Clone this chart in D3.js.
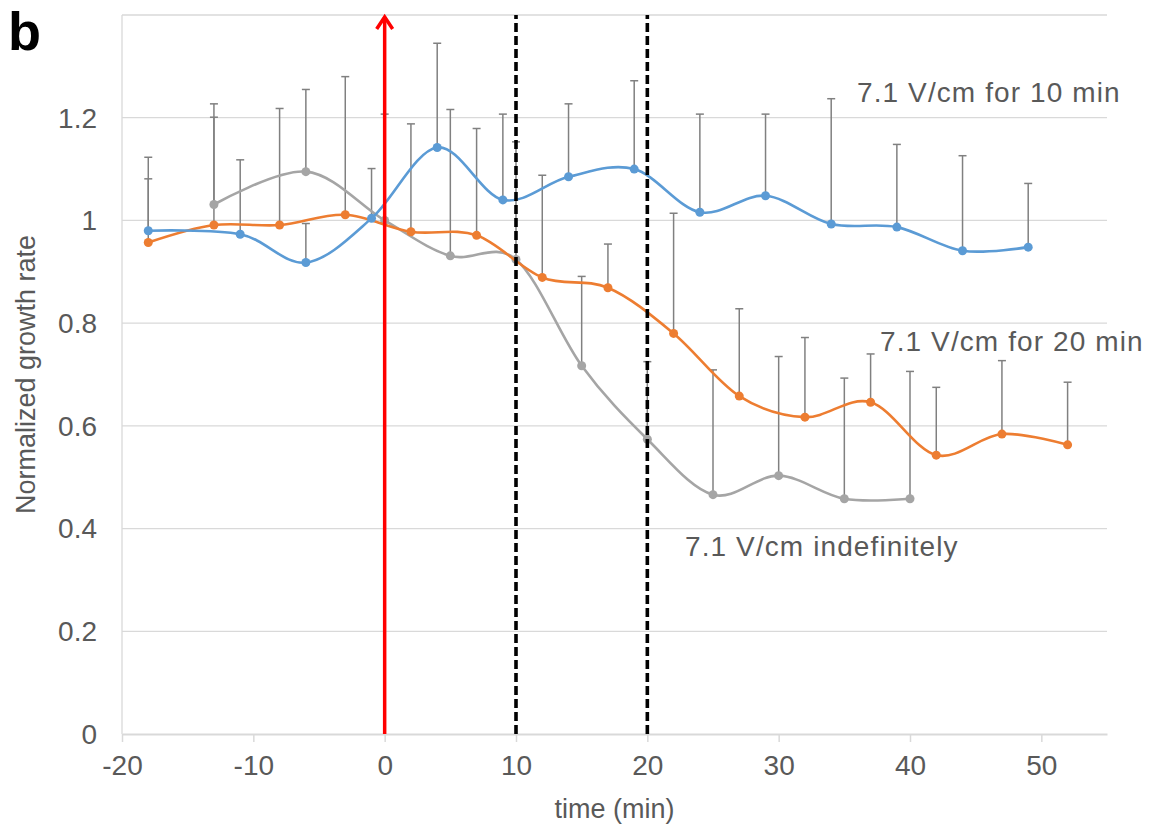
<!DOCTYPE html>
<html>
<head>
<meta charset="utf-8">
<script src="https://cdn.jsdelivr.net/npm/d3@7"></script>
<style>
  body { margin: 0; background: #fff; }
  text { font-family: "Liberation Sans", Arial, sans-serif; }
</style>
</head>
<body>
<script>
// data
var tenMinT   = [-18, -11, -6, -1, 4, 9, 14, 19, 24, 29, 34, 39, 44, 49];
var tenMinV   = [0.980, 0.973, 0.918, 1.004, 1.142, 1.040, 1.085, 1.100, 1.016, 1.048, 0.993, 0.987, 0.941, 0.948];
var tenMinErr = [0.143, 0.145, 0.076, 0.097, 0.203, 0.167, 0.142, 0.172, 0.191, 0.159, 0.244, 0.161, 0.185, 0.124];

var twentyMinT   = [-18, -13, -8, -3, 2, 7, 12, 17, 22, 27, 32, 37, 42, 47, 52];
var twentyMinV   = [0.957, 0.991, 0.991, 1.011, 0.978, 0.971, 0.889, 0.869, 0.780, 0.658, 0.617, 0.646, 0.543, 0.584, 0.563];
var twentyMinErr = [0.124, 0.210, 0.227, 0.269, 0.210, 0.208, 0.199, 0.085, 0.234, 0.170, 0.155, 0.094, 0.132, 0.143, 0.122];

var indefT   = [-13, -6, 0, 5, 10, 15, 20, 25, 30, 35, 40];
var indefV   = [1.031, 1.095, 1.000, 0.931, 0.924, 0.717, 0.574, 0.466, 0.503, 0.458, 0.458];
var indefErr = [0.196, 0.160, 0.207, 0.285, 0.229, 0.174, 0.151, 0.243, 0.232, 0.235, 0.248];

var xTicks = [-20, -10, 0, 10, 20, 30, 40, 50];
var yTicks = [0, 0.2, 0.4, 0.6, 0.8, 1, 1.2];
var yGrid  = [0.2, 0.4, 0.6, 0.8, 1, 1.2, 1.4];
var markers = [0, 10, 20]; // field on, 10 min off, 20 min off

var width = 1153,
    height = 828;

var x = d3.scaleLinear().domain([-20, 55]).range([122, 1107]);
var y = d3.scaleLinear().domain([0, 1.4]).range([734, 15]);

var svg = d3.select("body").append("svg")
    .attr("width", width)
    .attr("height", height);

function zip(ts, vs, es) {
  return ts.map(function(t, i) { return {t: t, v: vs[i], e: es[i]}; });
}

var series = [
  {name: "indef", color: "#a5a5a5", pts: zip(indefT, indefV, indefErr)},
  {name: "20min", color: "#ed7d31", pts: zip(twentyMinT, twentyMinV, twentyMinErr)},
  {name: "10min", color: "#5b9bd5", pts: zip(tenMinT, tenMinV, tenMinErr)}
];

// gridlines
svg.append("g").selectAll("line")
  .data(yGrid).enter().append("line")
    .attr("x1", x(-20)).attr("x2", x(55))
    .attr("y1", function(d) { return y(d); })
    .attr("y2", function(d) { return y(d); })
    .attr("stroke", "#d9d9d9")
    .attr("stroke-width", 1.3);

// left axis line
svg.append("line")
  .attr("x1", x(-20)).attr("x2", x(-20))
  .attr("y1", y(0)).attr("y2", y(1.4))
  .attr("stroke", "#d9d9d9").attr("stroke-width", 1.3);

// x axis
var xAxis = svg.append("g")
  .attr("transform", "translate(0," + y(0) + ")")
  .call(d3.axisBottom(x).tickValues(xTicks).tickSize(8).tickPadding(13).tickSizeOuter(0)
    .tickFormat(function(d) { return String(d); }));
xAxis.select(".domain").attr("stroke", "#d9d9d9").attr("stroke-width", 1.8);
xAxis.selectAll(".tick line").attr("stroke", "#d9d9d9").attr("stroke-width", 1.5);
xAxis.selectAll("text")
  .attr("fill", "#595959")
  .style("font-size", "28px")
  .style("font-family", "'Liberation Sans', Arial, sans-serif");

// y tick labels
svg.append("g").selectAll("text")
  .data(yTicks).enter().append("text")
    .attr("x", 97)
    .attr("y", function(d) { return y(d); })
    .attr("dy", "0.35em")
    .attr("text-anchor", "end")
    .attr("fill", "#595959")
    .style("font-size", "28px")
    .text(function(d) { return String(d); });

// error bars (plus only)
series.forEach(function(s) {
  var g = svg.append("g");
  g.selectAll(".eb").data(s.pts).enter().append("line")
    .attr("x1", function(d) { return x(d.t); })
    .attr("x2", function(d) { return x(d.t); })
    .attr("y1", function(d) { return y(d.v); })
    .attr("y2", function(d) { return y(d.v + d.e); })
    .attr("stroke", "#808080").attr("stroke-width", 1.5);
  g.selectAll(".cap").data(s.pts).enter().append("line")
    .attr("x1", function(d) { return x(d.t) - 4; })
    .attr("x2", function(d) { return x(d.t) + 4; })
    .attr("y1", function(d) { return y(d.v + d.e); })
    .attr("y2", function(d) { return y(d.v + d.e); })
    .attr("stroke", "#808080").attr("stroke-width", 1.5);
});

// smoothed lines + markers
var line = d3.line()
  .x(function(d) { return x(d.t); })
  .y(function(d) { return y(d.v); })
  .curve(d3.curveCardinal.tension(0));

series.forEach(function(s) {
  svg.append("path")
    .datum(s.pts)
    .attr("d", line)
    .attr("fill", "none")
    .attr("stroke", s.color)
    .attr("stroke-width", 2.6);
  svg.append("g").selectAll("circle")
    .data(s.pts).enter().append("circle")
      .attr("cx", function(d) { return x(d.t); })
      .attr("cy", function(d) { return y(d.v); })
      .attr("r", 4.5)
      .attr("fill", s.color);
});

// dashed lines at 10 and 20 min
svg.append("g").selectAll("line")
  .data(markers.slice(1)).enter().append("line")
    .attr("x1", function(d) { return x(d); })
    .attr("x2", function(d) { return x(d); })
    .attr("y1", y(0)).attr("y2", y(1.4))
    .attr("stroke", "#000")
    .attr("stroke-width", 3.6)
    .attr("stroke-dasharray", "9,4");

// red arrow at t = 0
var ax = x(markers[0]);
svg.append("line")
  .attr("x1", ax).attr("x2", ax)
  .attr("y1", y(0)).attr("y2", y(1.4) + 2)
  .attr("stroke", "#ff0000").attr("stroke-width", 3.5);
svg.append("path")
  .attr("d", "M" + (ax - 8) + "," + (y(1.4) + 14) + "L" + ax + "," + (y(1.4) + 2) + "L" + (ax + 8) + "," + (y(1.4) + 14))
  .attr("fill", "none")
  .attr("stroke", "#ff0000")
  .attr("stroke-width", 3.5);

// annotations
var notes = [
  {text: "7.1 V/cm for 10 min", x: 857, y: 102},
  {text: "7.1 V/cm for 20 min", x: 880, y: 351},
  {text: "7.1 V/cm indefinitely", x: 685, y: 556}
];
svg.append("g").selectAll("text")
  .data(notes).enter().append("text")
    .attr("x", function(d) { return d.x; })
    .attr("y", function(d) { return d.y; })
    .attr("fill", "#595959")
    .style("font-size", "28px")
    .style("letter-spacing", "1.1px")
    .text(function(d) { return d.text; });

// axis titles
svg.append("text")
  .attr("x", x(17.5))
  .attr("y", 818)
  .attr("text-anchor", "middle")
  .attr("fill", "#595959")
  .style("font-size", "27px")
  .text("time (min)");

svg.append("text")
  .attr("transform", "translate(35," + y(0.7) + ") rotate(-90)")
  .attr("text-anchor", "middle")
  .attr("fill", "#595959")
  .style("font-size", "27px")
  .text("Normalized growth rate");

// panel letter
svg.append("text")
  .attr("x", 8)
  .attr("y", 50)
  .attr("fill", "#000")
  .style("font-size", "54px")
  .style("font-weight", "bold")
  .text("b");
</script>
</body>
</html>
